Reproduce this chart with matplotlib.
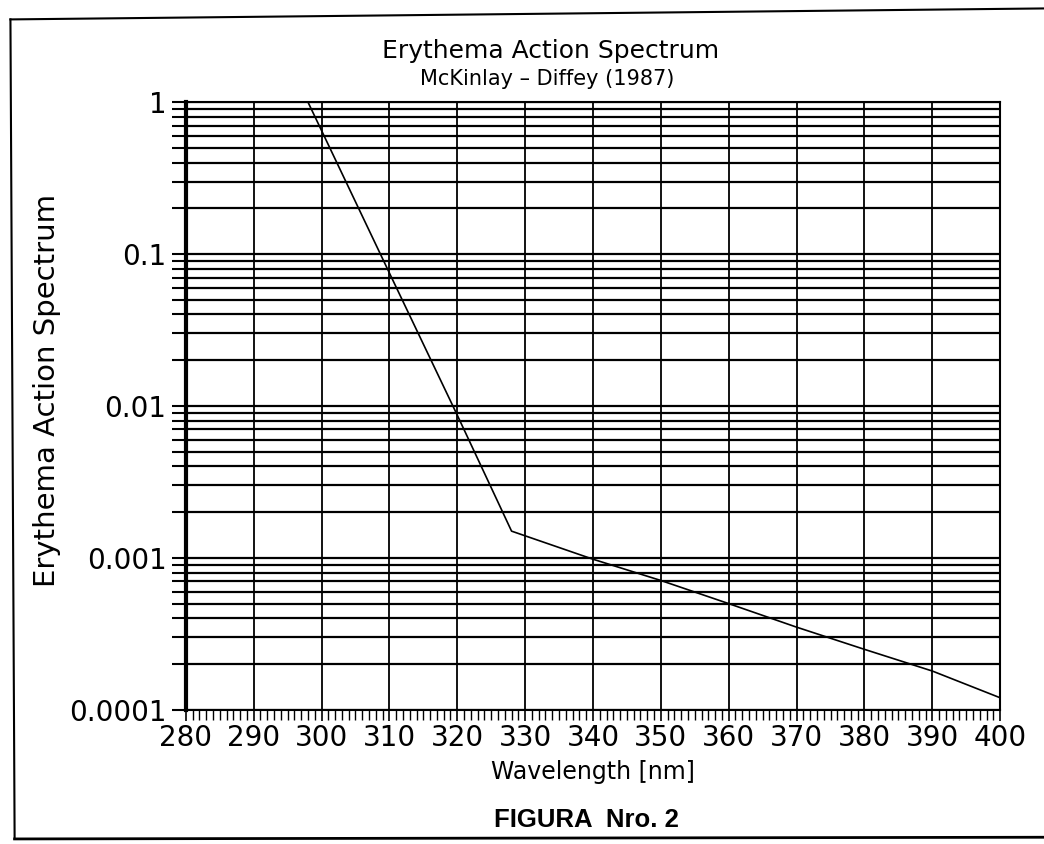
import numpy as np
import matplotlib.pyplot as plt
from matplotlib.lines import Line2D
from matplotlib.ticker import FixedLocator, LogLocator, NullFormatter

# erythema action spectrum
wavelength = [298, 300, 310, 320, 328, 340, 350, 360, 370, 380, 390, 400]
action = [1.0, 0.65, 0.075, 0.0087, 0.0015, 0.00098, 0.00071,
          0.00050, 0.00035, 0.00025, 0.00018, 0.00012]

x_ticks = list(range(280, 401, 10))
y_ticks = [0.0001, 0.001, 0.01, 0.1, 1]
y_labels = ["0.0001", "0.001", "0.01", "0.1", "1"]

plt.rcParams['font.family'] = ['DejaVu Sans']

fig = plt.figure(figsize=(10.44, 8.44), dpi=100)
ax = fig.add_axes([0.178, 0.159, 0.780, 0.720])

ax.plot(wavelength, action, color='black', lw=1.2, zorder=3)

ax.set_yscale('log')
ax.set_xlim(280, 400)
ax.set_ylim(0.0001, 1)

ax.set_xticks(x_ticks)
ax.set_xticklabels([str(t) for t in x_ticks])
ax.xaxis.set_minor_locator(FixedLocator(np.arange(280, 401, 1)))
ax.set_yticks(y_ticks)
ax.set_yticklabels(y_labels)
ax.yaxis.set_minor_locator(LogLocator(base=10, subs=np.arange(2, 10)))
ax.yaxis.set_minor_formatter(NullFormatter())

# dense graph-paper grid
ax.grid(True, which='major', axis='x', color='black', lw=1.3)
ax.grid(True, which='both', axis='y', color='black', lw=1.6)

ax.tick_params(axis='x', which='major', direction='out', length=8, width=1.2,
               labelsize=20, pad=2)
ax.tick_params(axis='x', which='minor', direction='out', length=7, width=1.0)
ax.tick_params(axis='y', which='both', direction='out', length=10, width=1.5,
               labelsize=20, pad=4)

for side in ['top', 'bottom', 'right']:
    ax.spines[side].set_linewidth(1.5)
ax.spines['left'].set_linewidth(3.0)

# titles and axis labels placed in figure coordinates
fig.text(0.527, 0.940, "Erythema Action Spectrum", ha='center', va='center',
         fontsize=18)
fig.text(0.524, 0.906, "McKinlay \u2013 Diffey (1987)", ha='center', va='center',
         fontsize=15)
fig.text(0.568, 0.085, "Wavelength [nm]", ha='center', va='center',
         fontsize=17)
fig.text(0.045, 0.537, "Erythema Action Spectrum", ha='center', va='center',
         rotation=90, fontsize=21)
fig.text(0.562, 0.028, "FIGURA  Nro. 2", ha='center', va='center',
         fontsize=18.5, fontweight='bold', family='Liberation Sans')

# page frame
fig.add_artist(Line2D([0.010, 1.0], [0.977, 0.990], transform=fig.transFigure,
                      color='black', lw=1.5))
fig.add_artist(Line2D([0.010, 0.014], [0.977, 0.006], transform=fig.transFigure,
                      color='black', lw=1.5))
fig.add_artist(Line2D([0.014, 1.0], [0.006, 0.008], transform=fig.transFigure,
                      color='black', lw=2.0))

fig.savefig("out.png", dpi=100)
